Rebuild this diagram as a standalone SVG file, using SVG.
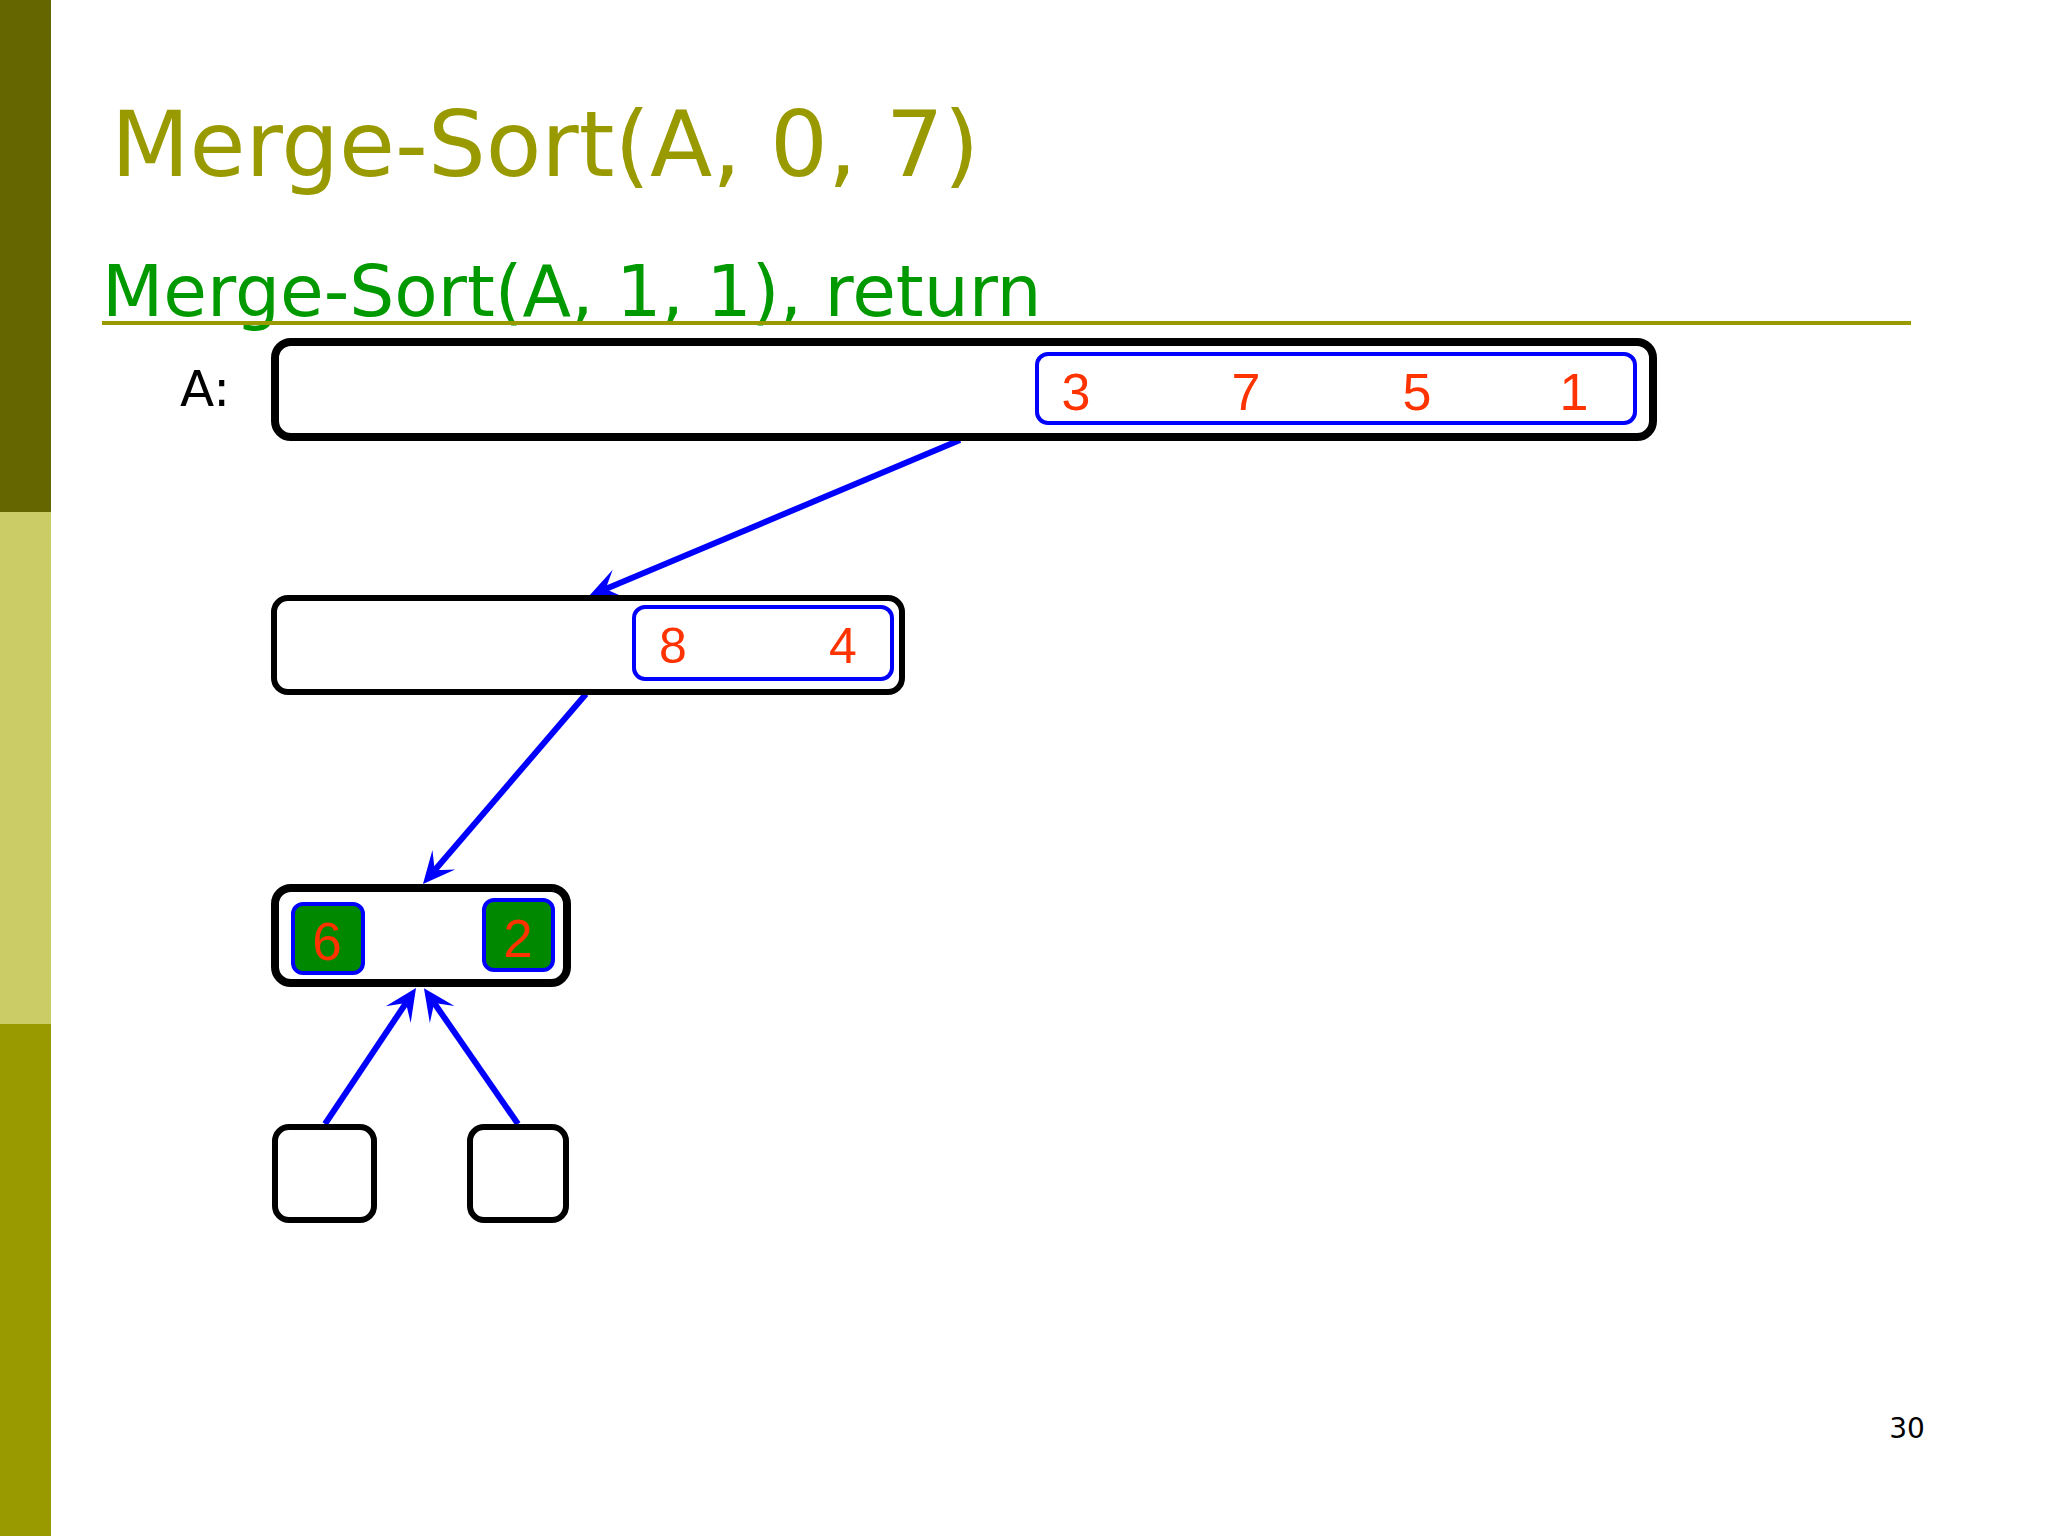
<svg xmlns="http://www.w3.org/2000/svg" width="2048" height="1536" viewBox="0 0 2048 1536">
<defs>
<style>
.frame{fill:#ffffff;stroke:#000000}
.sub{fill:#ffffff;stroke:#0000ff;stroke-width:4}
.leaf{fill:#008800;stroke:#0000ff;stroke-width:4}
.num{font-family:"Liberation Sans",Arial,sans-serif;fill:#ff3300;text-anchor:middle}
.conn{stroke:#0000ff;stroke-width:6;fill:none;marker-end:url(#stealth)}
</style>
<marker id="stealth" viewBox="0 0 32 32" refX="14" refY="16" markerWidth="32" markerHeight="32" markerUnits="userSpaceOnUse" orient="auto">
<path d="M32,16 L0,1 L14,16 L0,31 Z" fill="#0000ff"/>
</marker>
</defs>
<rect x="0" y="0" width="2048" height="1536" fill="#ffffff"/>
<rect x="0" y="0" width="51" height="512" fill="#666600"/>
<rect x="0" y="512" width="51" height="512" fill="#cccc66"/>
<rect x="0" y="1024" width="51" height="512" fill="#999900"/>
<text x="111" y="176" font-family="DejaVu Sans,Verdana,sans-serif" font-size="91" fill="#999900">Merge-Sort(A, 0, 7)</text>
<text x="102" y="316" font-family="DejaVu Sans,Verdana,sans-serif" font-size="71" fill="#009900">Merge-Sort(A, 1, 1), return</text>
<line x1="102" y1="323" x2="1911" y2="323" stroke="#999900" stroke-width="4"/>
<text x="180" y="406" font-family="DejaVu Sans,Verdana,sans-serif" font-size="50" fill="#000000">A:</text>
<g id="connectors">
<path class="conn" d="M960,440 L605.6,589"/>
<path class="conn" d="M586,694 L434.7,870.3"/>
<path class="conn" d="M325,1124 L406,1003"/>
<path class="conn" d="M518,1124 L434.2,1003"/>
</g>
<g id="node-root">
<rect class="frame" x="275" y="342" width="1378" height="95" rx="16" stroke-width="8"/>
<rect class="sub" x="1037" y="354" width="598" height="69" rx="11"/>
<text class="num" x="1076" y="410" font-size="52">3</text>
<text class="num" x="1246" y="410" font-size="52">7</text>
<text class="num" x="1417" y="410" font-size="52">5</text>
<text class="num" x="1574" y="410" font-size="52">1</text>
</g>
<g id="node-left">
<rect class="frame" x="274" y="598" width="628" height="94" rx="14" stroke-width="6"/>
<rect class="sub" x="634" y="607" width="258" height="72" rx="11"/>
<text class="num" x="673" y="663" font-size="50">8</text>
<text class="num" x="843" y="663" font-size="50">4</text>
</g>
<g id="node-leftleft">
<rect class="frame" x="275" y="888" width="292" height="95" rx="16" stroke-width="8"/>
<rect class="leaf" x="293" y="904" width="70" height="69" rx="10"/>
<rect class="leaf" x="484" y="900" width="69" height="70" rx="10"/>
<text class="num" x="327" y="960" font-size="53">6</text>
<text class="num" x="518" y="957" font-size="53">2</text>
</g>
<g id="node-leaf1">
<rect class="frame" x="275" y="1127" width="99" height="93" rx="14" stroke-width="6"/>
</g>
<g id="node-leaf2">
<rect class="frame" x="470" y="1127" width="96" height="93" rx="14" stroke-width="6"/>
</g>
<text x="1907" y="1438" font-family="DejaVu Sans,Verdana,sans-serif" font-size="28" fill="#000000" text-anchor="middle">30</text>
</svg>
